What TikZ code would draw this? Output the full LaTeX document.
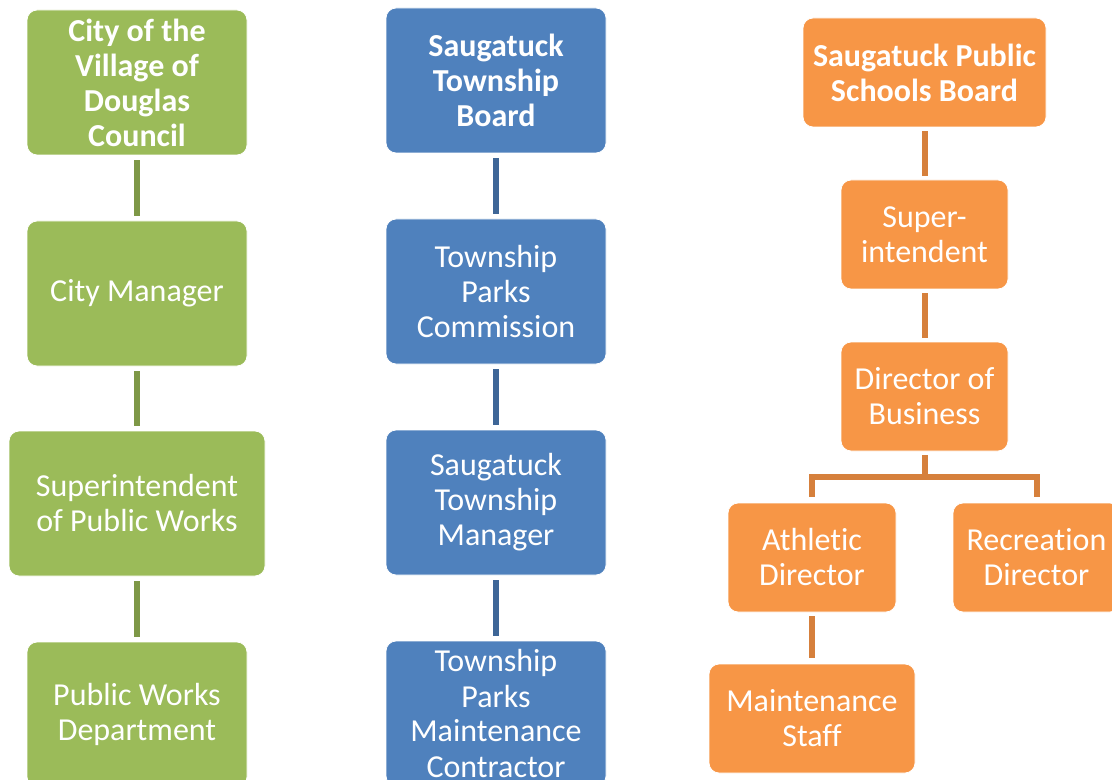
\documentclass[tikz,border=0pt]{standalone}
\usepackage{fontspec}
\setmainfont{Carlito}[Ligatures=NoCommon]

\definecolor{greenFill}{RGB}{155,187,89}
\definecolor{greenLine}{RGB}{126,152,71}
\definecolor{blueFill}{RGB}{79,129,189}
\definecolor{blueLine}{RGB}{62,102,151}
\definecolor{orangeFill}{RGB}{247,150,70}
\definecolor{orangeLine}{RGB}{214,128,60}

\begin{document}
\begin{tikzpicture}[
        x=0.5pt, y=-0.5pt,
        every node/.style={rounded corners=5pt, draw=white, thin, text=white, align=center, inner sep=0pt,
            font=\fontsize{16}{17.5}\selectfont},
        nodeGreen/.style={fill=greenFill, minimum width=110pt, minimum height=72.5pt},
        nodeBlue/.style={fill=blueFill, minimum width=110pt, minimum height=72.5pt},
        nodeOrange/.style={fill=orangeFill, minimum width=83.5pt, minimum height=54.5pt},
        lineGreen/.style={draw=greenLine, line width=3pt, shorten <=2.5pt, shorten >=2.5pt},
        lineBlue/.style={draw=blueLine, line width=3pt, shorten <=2.5pt, shorten >=2.5pt},
        lineOrange/.style={draw=orangeLine, line width=3pt}
        ]
        \useasboundingbox (0,0) rectangle (1112,780);

        % Douglas
        \node [nodeGreen, font=\fontsize{16}{17.5}\selectfont\bfseries] (council) at (137,82.5) {City of the\\Village of\\Douglas\\Council};
        \node [nodeGreen] (cityMgr) at (137,293.5) {City Manager};
        \node [nodeGreen, minimum width=128pt] (supWorks) at (137,503.5) {Superintendent\\of Public Works};
        \node [nodeGreen] (worksDept) at (137,714.5) {Public Works\\Department};

        \draw[lineGreen] (council) -- (cityMgr);
        \draw[lineGreen] (cityMgr) -- (supWorks);
        \draw[lineGreen] (supWorks) -- (worksDept);

        % Saugatuck Township
        \node [nodeBlue, font=\fontsize{16}{17.5}\selectfont\bfseries] (twpBoard) at (496,80.5) {Saugatuck\\Township\\Board};
        \node [nodeBlue] (parksComm) at (496,291.5) {Township\\Parks\\Commission};
        \node [nodeBlue] (twpMgr) at (496,502.5) {Saugatuck\\Township\\Manager};
        \node [nodeBlue] (contractor) at (496,713.5) {Township\\Parks\\Maintenance\\Contractor};

        \draw[lineBlue] (twpBoard) -- (parksComm);
        \draw[lineBlue] (parksComm) -- (twpMgr);
        \draw[lineBlue] (twpMgr) -- (contractor);

        % Saugatuck Public Schools
        \node [nodeOrange, minimum width=121.5pt, font=\fontsize{16}{17.5}\selectfont\bfseries] (schoolBoard) at (924.5,72.5) {Saugatuck Public\\Schools Board};
        \node [nodeOrange] (superint) at (924.5,234.5) {Super-\\intendent};
        \node [nodeOrange] (dirBusiness) at (924.5,396.5) {Director of\\Business};
        \node [nodeOrange, minimum width=84pt] (athletic) at (812,557.5) {Athletic\\Director};
        \node [nodeOrange] (recreation) at (1036.5,557.5) {Recreation\\Director};
        \node [nodeOrange, minimum width=103pt] (maintStaff) at (812,718.5) {Maintenance\\Staff};

        \coordinate (jBusiness) at (924.5,477);
        \draw[lineOrange, shorten <=2pt, shorten >=2pt] (schoolBoard) -- (superint);
        \draw[lineOrange, shorten <=2pt, shorten >=2pt] (superint) -- (dirBusiness);
        \draw[lineOrange, shorten <=2pt] (dirBusiness) -- (jBusiness);
        \draw[lineOrange, shorten >=3pt] (jBusiness) -| (athletic);
        \draw[lineOrange, shorten >=3pt] (jBusiness) -| (recreation);
        \draw[lineOrange, shorten <=2pt, shorten >=3pt] (athletic) -- (maintStaff);
    \end{tikzpicture}
\end{document}
